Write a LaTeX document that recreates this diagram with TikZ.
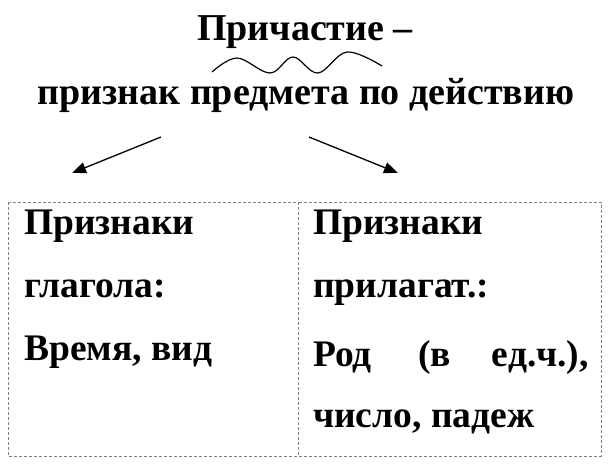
\documentclass[tikz,border=0pt]{standalone}
\usepackage{fontspec}
\setmainfont{Liberation Serif}
\usetikzlibrary{arrows.meta}
\begin{document}
\begin{tikzpicture}[x=1pt,y=-1pt,
  titletext/.style={font=\fontsize{38}{42}\selectfont\bfseries, inner sep=0pt},
  boxtext/.style={font=\fontsize{37.5}{42}\selectfont\bfseries, inner sep=0pt, anchor=base west},
  arrowline/.style={line width=1.3pt, -{Triangle[length=14pt,width=11pt]}},
  frame/.style={draw=gray, dash pattern=on 3pt off 2pt, line width=0.8pt}]
\useasboundingbox[fill=white] (0,0) rectangle (616,466);
\node[titletext, anchor=base] (t1) at (305,40) {Причастие –};
\node[titletext, anchor=base] (t2) at (306,104) {признак предмета по действию};
\draw[line width=1.2pt] plot[smooth, tension=0.6] coordinates {(212,72) (237,58) (270,73) (293,57) (318,73) (347,52) (382,66)};
\coordinate (la) at (161,137);
\coordinate (lb) at (72,173);
\coordinate (ra) at (309,137);
\coordinate (rb) at (398,173);
\draw[arrowline] (la) -- (lb);
\draw[arrowline] (ra) -- (rb);
\draw[frame] (8,202) rectangle (298,456);
\draw[frame] (298,202) rectangle (601,456);
\node[boxtext] (l1) at (24,234) {Признаки};
\node[boxtext] (l2) at (24,297) {глагола:};
\node[boxtext] (l3) at (24,360) {Время, вид};
\node[boxtext] (r1) at (313,234) {Признаки};
\node[boxtext] (r2) at (313,297) {прилагат.:};
\node[boxtext, anchor=base west] (r3a) at (313,366) {Род};
\node[boxtext, anchor=base west] (r3b) at (418,366) {(в};
\node[boxtext, anchor=base east] (r3c) at (589,366) {ед.ч.),};
\node[boxtext] (r4) at (313,427) {число, падеж};
\end{tikzpicture}
\end{document}
